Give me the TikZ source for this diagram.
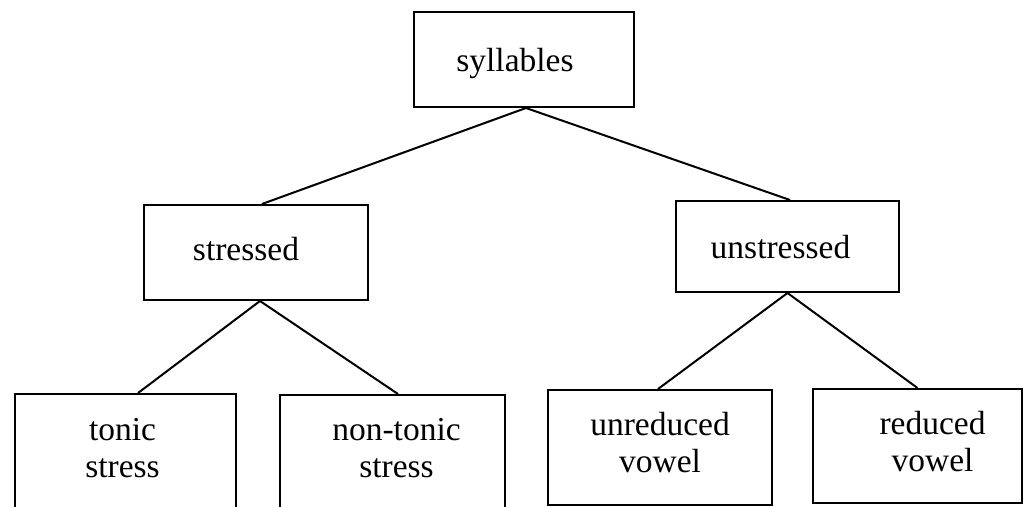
\documentclass[tikz,border=0pt]{standalone}
\usepackage{fontspec}
\setmainfont{Liberation Serif}
\newcommand\placetext[3]{\raisebox{#2}[\height][\depth]{\hspace*{#1}\begin{tabular}{@{}c@{}}#3\end{tabular}\hspace*{-#1}}}
\begin{document}
\begin{tikzpicture}[x=1pt,y=-1pt,
  box/.style={draw, line width=2pt, rectangle, inner sep=0pt,
    font=\fontsize{33.5}{37}\selectfont},
  link/.style={line width=2pt}]
\useasboundingbox (0,0) rectangle (1024,506);
\fill[white] (0,0) rectangle (1024,506);
\clip (0,0) rectangle (1024,506);
\node[box, minimum width=220pt, minimum height=95pt] (syl) at (524,59.5) {\placetext{-9pt}{-5pt}{syllables}};
\node[box, minimum width=224pt, minimum height=95pt] (str) at (256,252.5) {\placetext{-10pt}{-1pt}{stressed}};
\node[box, minimum width=223pt, minimum height=91pt] (uns) at (787.5,246.5) {\placetext{-7pt}{-5pt}{unstressed}};
\node[box, minimum width=221pt, minimum height=116pt] (ton) at (125.5,452) {\placetext{-3pt}{0pt}{tonic\\stress}};
\node[box, minimum width=225pt, minimum height=115pt] (non) at (392.5,452.5) {\placetext{4pt}{1pt}{non-tonic\\stress}};
\node[box, minimum width=224pt, minimum height=115pt] (unr) at (660,447.5) {\placetext{0pt}{1pt}{unreduced\\vowel}};
\node[box, minimum width=209pt, minimum height=114pt] (red) at (917.5,446) {\placetext{15pt}{0pt}{reduced\\vowel}};
\draw[link] ([xshift=2pt]syl.south) -- ([xshift=6pt]str.north);
\draw[link] ([xshift=2pt]syl.south) -- ([xshift=2.5pt]uns.north);
\draw[link] ([xshift=4pt]str.south) -- ([xshift=12.5pt]ton.north);
\draw[link] ([xshift=4pt]str.south) -- ([xshift=5.5pt]non.north);
\draw[link] (uns.south) -- ([xshift=-2pt]unr.north);
\draw[link] (uns.south) -- (red.north);
\end{tikzpicture}
\end{document}
